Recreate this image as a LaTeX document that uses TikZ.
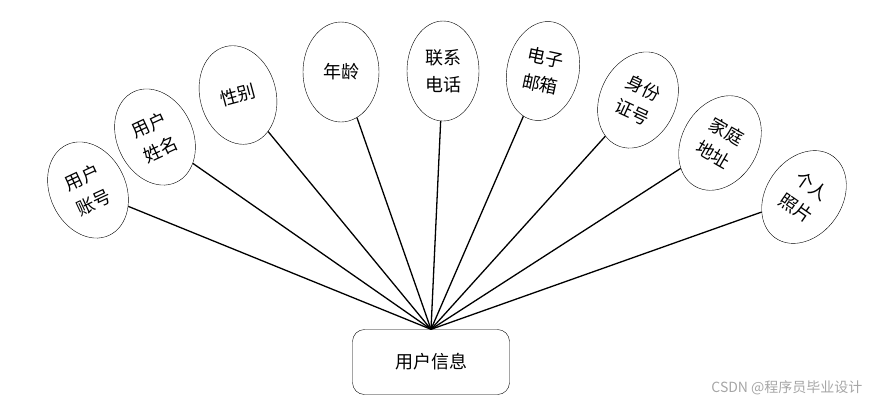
\documentclass[tikz,border=0pt]{standalone}
\usepackage{fontspec}
\setmainfont{Noto Sans CJK SC}
\usepackage{tikz}
\usetikzlibrary{shapes.geometric}

\begin{document}
\begin{tikzpicture}[x=1pt, y=-1pt, font=\fontsize{18}{27}\selectfont,
  attr/.style={draw, ellipse, thin, align=center, inner sep=0pt,
    minimum width=76pt, minimum height=100pt},
  hub/.style={draw, rounded corners=12pt, minimum width=157pt, minimum height=65pt},
  link/.style={line width=1.3pt}]
\useasboundingbox (0,0) rectangle (870,408);
% attributes
\node[attr, rotate=25] (acct) at (88,190) {用户\\账号};
\node[attr, rotate=25] (name) at (155,137) {用户\\姓名};
\node[attr, rotate=15] (sex) at (238,95) {性别};
\node[attr] (age) at (341,72) {年龄};
\node[attr, minimum width=72pt] (tel) at (443,71) {联系\\电话};
\node[attr, rotate=-12, minimum width=72pt] (mail) at (543,71) {电子\\邮箱};
\node[attr, rotate=-25] (idno) at (638,100) {身份\\证号};
\node[attr, rotate=-30] (addr) at (720,143) {家庭\\地址};
\node[attr, rotate=-35] (photo) at (804,197) {个人\\照片};
% entity
\node[hub] (user) at (431,362) {用户信息};
\draw[link] (acct) -- (user.north);
\draw[link] (name) -- (user.north);
\draw[link] (sex) -- (user.north);
\draw[link] (age) -- (user.north);
\draw[link] (tel) -- (user.north);
\draw[link] (mail) -- (user.north);
\draw[link] (idno) -- (user.north);
\draw[link] (addr) -- (user.north);
\draw[link] (photo) -- (user.north);
\node[text=black!35, font=\fontsize{14}{16}\selectfont, anchor=east] (mark) at (866,388) {CSDN @程序员毕业设计};
\end{tikzpicture}
\end{document}
